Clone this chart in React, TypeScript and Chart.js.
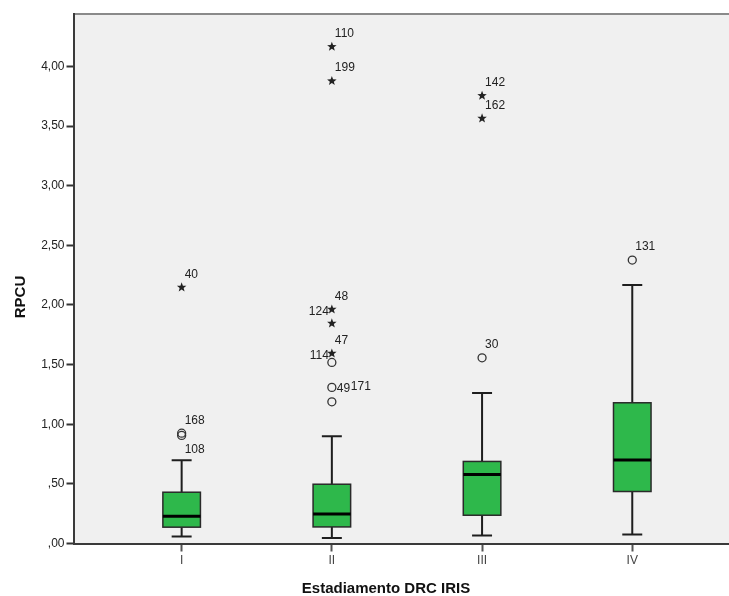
import React, { useEffect, useRef } from "react";
import { Chart, registerables } from "chart.js";

Chart.register(...registerables);

const categories = ["I", "II", "III", "IV"];
const whiskerLow = [0.059, 0.047, 0.067, 0.075];
const q1 = [0.137, 0.139, 0.237, 0.436];
const median = [0.229, 0.248, 0.579, 0.701];
const q3 = [0.43, 0.497, 0.688, 1.18];
const whiskerHigh = [0.699, 0.9, 1.263, 2.167];

// outliers: [categoryIndex, value]
const circleOutliers: [number, number][] = [
  [0, 0.925], [0, 0.906],
  [1, 1.518], [1, 1.309], [1, 1.188],
  [2, 1.557],
  [3, 2.377],
];
const starOutliers: [number, number][] = [
  [0, 2.148],
  [1, 4.166], [1, 3.878], [1, 1.963], [1, 1.846], [1, 1.594],
  [2, 3.755], [2, 3.565],
];
// labels: [categoryIndex, value, text, placement]
const caseLabels: [number, number, string, string][] = [
  [0, 0.925, "168", "ur"],
  [0, 0.906, "108", "dr"],
  [0, 2.148, "40", "ur"],
  [1, 4.166, "110", "ur"],
  [1, 3.878, "199", "ur"],
  [1, 1.963, "48", "ur"],
  [1, 1.963, "124", "l"],
  [1, 1.594, "47", "ur"],
  [1, 1.594, "114", "l"],
  [1, 1.309, "49", "r"],
  [1, 1.309, "171", "r2"],
  [2, 3.755, "142", "ur"],
  [2, 3.565, "162", "ur"],
  [2, 1.557, "30", "ur"],
  [3, 2.377, "131", "ur"],
];

const yTitle = "RPCU";
const xTitle = "Estadiamento DRC IRIS";

function fmt(v: number) {
  const s = v.toFixed(2).replace(".", ",");
  return s.startsWith("0") ? s.slice(1) : s;
}

const boxPlugin = {
  id: "boxPlugin",
  beforeDraw(chart: any) {
    const { ctx, chartArea } = chart;
    ctx.save();
    ctx.fillStyle = "#f0f0f0";
    ctx.fillRect(chartArea.left, chartArea.top, chartArea.right - chartArea.left, chartArea.bottom - chartArea.top);
    ctx.strokeStyle = "#8a8a8a";
    ctx.lineWidth = 2;
    ctx.beginPath();
    ctx.moveTo(chartArea.left, chartArea.top);
    ctx.lineTo(chartArea.right, chartArea.top);
    ctx.stroke();
    ctx.restore();
  },
  afterDraw(chart: any) {
    const { ctx } = chart;
    const xs = chart.scales.x;
    const ys = chart.scales.y;
    const bw = 0.25;
    const cw = 0.133;
    ctx.save();
    categories.forEach((_, i) => {
      const c = i + 1;
      const xl = xs.getPixelForValue(c - bw / 2);
      const xr = xs.getPixelForValue(c + bw / 2);
      const xc = xs.getPixelForValue(c);
      const cl = xs.getPixelForValue(c - cw / 2);
      const cr = xs.getPixelForValue(c + cw / 2);
      const yLo = ys.getPixelForValue(whiskerLow[i]);
      const yQ1 = ys.getPixelForValue(q1[i]);
      const yMed = ys.getPixelForValue(median[i]);
      const yQ3 = ys.getPixelForValue(q3[i]);
      const yHi = ys.getPixelForValue(whiskerHigh[i]);
      ctx.strokeStyle = "#1e1e1e";
      ctx.lineWidth = 2;
      ctx.beginPath();
      ctx.moveTo(xc, yQ1); ctx.lineTo(xc, yLo);
      ctx.moveTo(cl, yLo); ctx.lineTo(cr, yLo);
      ctx.moveTo(xc, yQ3); ctx.lineTo(xc, yHi);
      ctx.moveTo(cl, yHi); ctx.lineTo(cr, yHi);
      ctx.stroke();
      ctx.fillStyle = "#2eb84b";
      ctx.fillRect(xl, yQ3, xr - xl, yQ1 - yQ3);
      ctx.lineWidth = 1.5;
      ctx.strokeStyle = "#2a2a2a";
      ctx.strokeRect(xl, yQ3, xr - xl, yQ1 - yQ3);
      ctx.lineWidth = 3;
      ctx.strokeStyle = "#000";
      ctx.beginPath();
      ctx.moveTo(xl, yMed); ctx.lineTo(xr, yMed);
      ctx.stroke();
    });
    // circles
    ctx.lineWidth = 1.3;
    ctx.strokeStyle = "#333";
    circleOutliers.forEach(([i, v]) => {
      const x = xs.getPixelForValue(i + 1);
      const y = ys.getPixelForValue(v);
      ctx.beginPath();
      ctx.arc(x, y, 4, 0, Math.PI * 2);
      ctx.stroke();
    });
    // stars
    ctx.fillStyle = "#222";
    starOutliers.forEach(([i, v]) => {
      const x = xs.getPixelForValue(i + 1);
      const y = ys.getPixelForValue(v);
      ctx.beginPath();
      for (let k = 0; k < 10; k++) {
        const r = k % 2 === 0 ? 5 : 2.1;
        const a = -Math.PI / 2 + (k * Math.PI) / 5;
        const px = x + r * Math.cos(a);
        const py = y + r * Math.sin(a);
        if (k === 0) ctx.moveTo(px, py); else ctx.lineTo(px, py);
      }
      ctx.closePath();
      ctx.fill();
    });
    // labels
    ctx.font = "12px 'Liberation Sans', Arial, sans-serif";
    ctx.fillStyle = "#222";
    ctx.textBaseline = "middle";
    caseLabels.forEach(([i, v, t, p]) => {
      const x = xs.getPixelForValue(i + 1);
      const y = ys.getPixelForValue(v);
      if (p === "ur") { ctx.textAlign = "left"; ctx.fillText(t, x + 3, y - 13); }
      else if (p === "dr") { ctx.textAlign = "left"; ctx.fillText(t, x + 3, y + 14); }
      else if (p === "l") { ctx.textAlign = "right"; ctx.fillText(t, x - 3, y + 2); }
      else if (p === "r") { ctx.textAlign = "left"; ctx.fillText(t, x + 5, y + 1); }
      else if (p === "r2") { ctx.textAlign = "left"; ctx.fillText(t, x + 19, y - 1); }
    });
    // axis titles
    ctx.font = "bold 15px 'Liberation Sans', Arial, sans-serif";
    ctx.fillStyle = "#111";
    ctx.textAlign = "center";
    ctx.textBaseline = "alphabetic";
    ctx.fillText(xTitle, 386, 593);
    ctx.save();
    ctx.translate(25, 297);
    ctx.rotate(-Math.PI / 2);
    ctx.fillText(yTitle, 0, 0);
    ctx.restore();
    ctx.restore();
  },
};

export default function App() {
  const ref = useRef<HTMLCanvasElement>(null);
  useEffect(() => {
    document.body.style.margin = "0";
    const chart = new Chart(ref.current!, {
      type: "scatter",
      data: { datasets: [{ data: [], pointRadius: 0 }] },
      options: {
        animation: false,
        responsive: false,
        layout: { padding: { top: 14, right: 0, left: 0, bottom: 0 } },
        plugins: { legend: { display: false }, tooltip: { enabled: false } },
        scales: {
          x: {
            type: "linear",
            min: 0.28,
            max: 4.644,
            afterBuildTicks: (s: any) => {
              s.ticks = categories.map((_, i) => ({ value: i + 1 }));
            },
            afterFit: (s: any) => { s.height = 52.5; },
            ticks: {
              callback: (v: any) => categories[Math.round(v) - 1] ?? "",
              color: "#444",
              font: { size: 12, family: "'Liberation Sans', Arial, sans-serif" },
              padding: 2,
              maxRotation: 0,
            },
            grid: { drawOnChartArea: false, tickLength: 8, color: "#555", tickWidth: 2 },
            border: { display: true, color: "#3a3a3a", width: 2 },
          },
          y: {
            type: "linear",
            min: 0,
            max: 4.44,
            afterBuildTicks: (s: any) => {
              const t = [];
              for (let k = 0; k <= 8; k++) t.push({ value: k * 0.5 });
              s.ticks = t;
            },
            afterFit: (s: any) => { s.width = 73.5; },
            ticks: {
              callback: (v: any) => fmt(Number(v)),
              color: "#222",
              font: { size: 12, family: "'Liberation Sans', Arial, sans-serif" },
              padding: 2,
            },
            grid: { drawOnChartArea: false, tickLength: 7, color: "#333", tickWidth: 2 },
            border: { display: true, color: "#3a3a3a", width: 2 },
          },
        },
      },
      plugins: [boxPlugin],
    } as any);
    return () => chart.destroy();
  }, []);
  return (
    <div style={{ width: 729, height: 596 }}>
      <canvas ref={ref} width={729} height={596} style={{ display: "block" }} />
    </div>
  );
}
